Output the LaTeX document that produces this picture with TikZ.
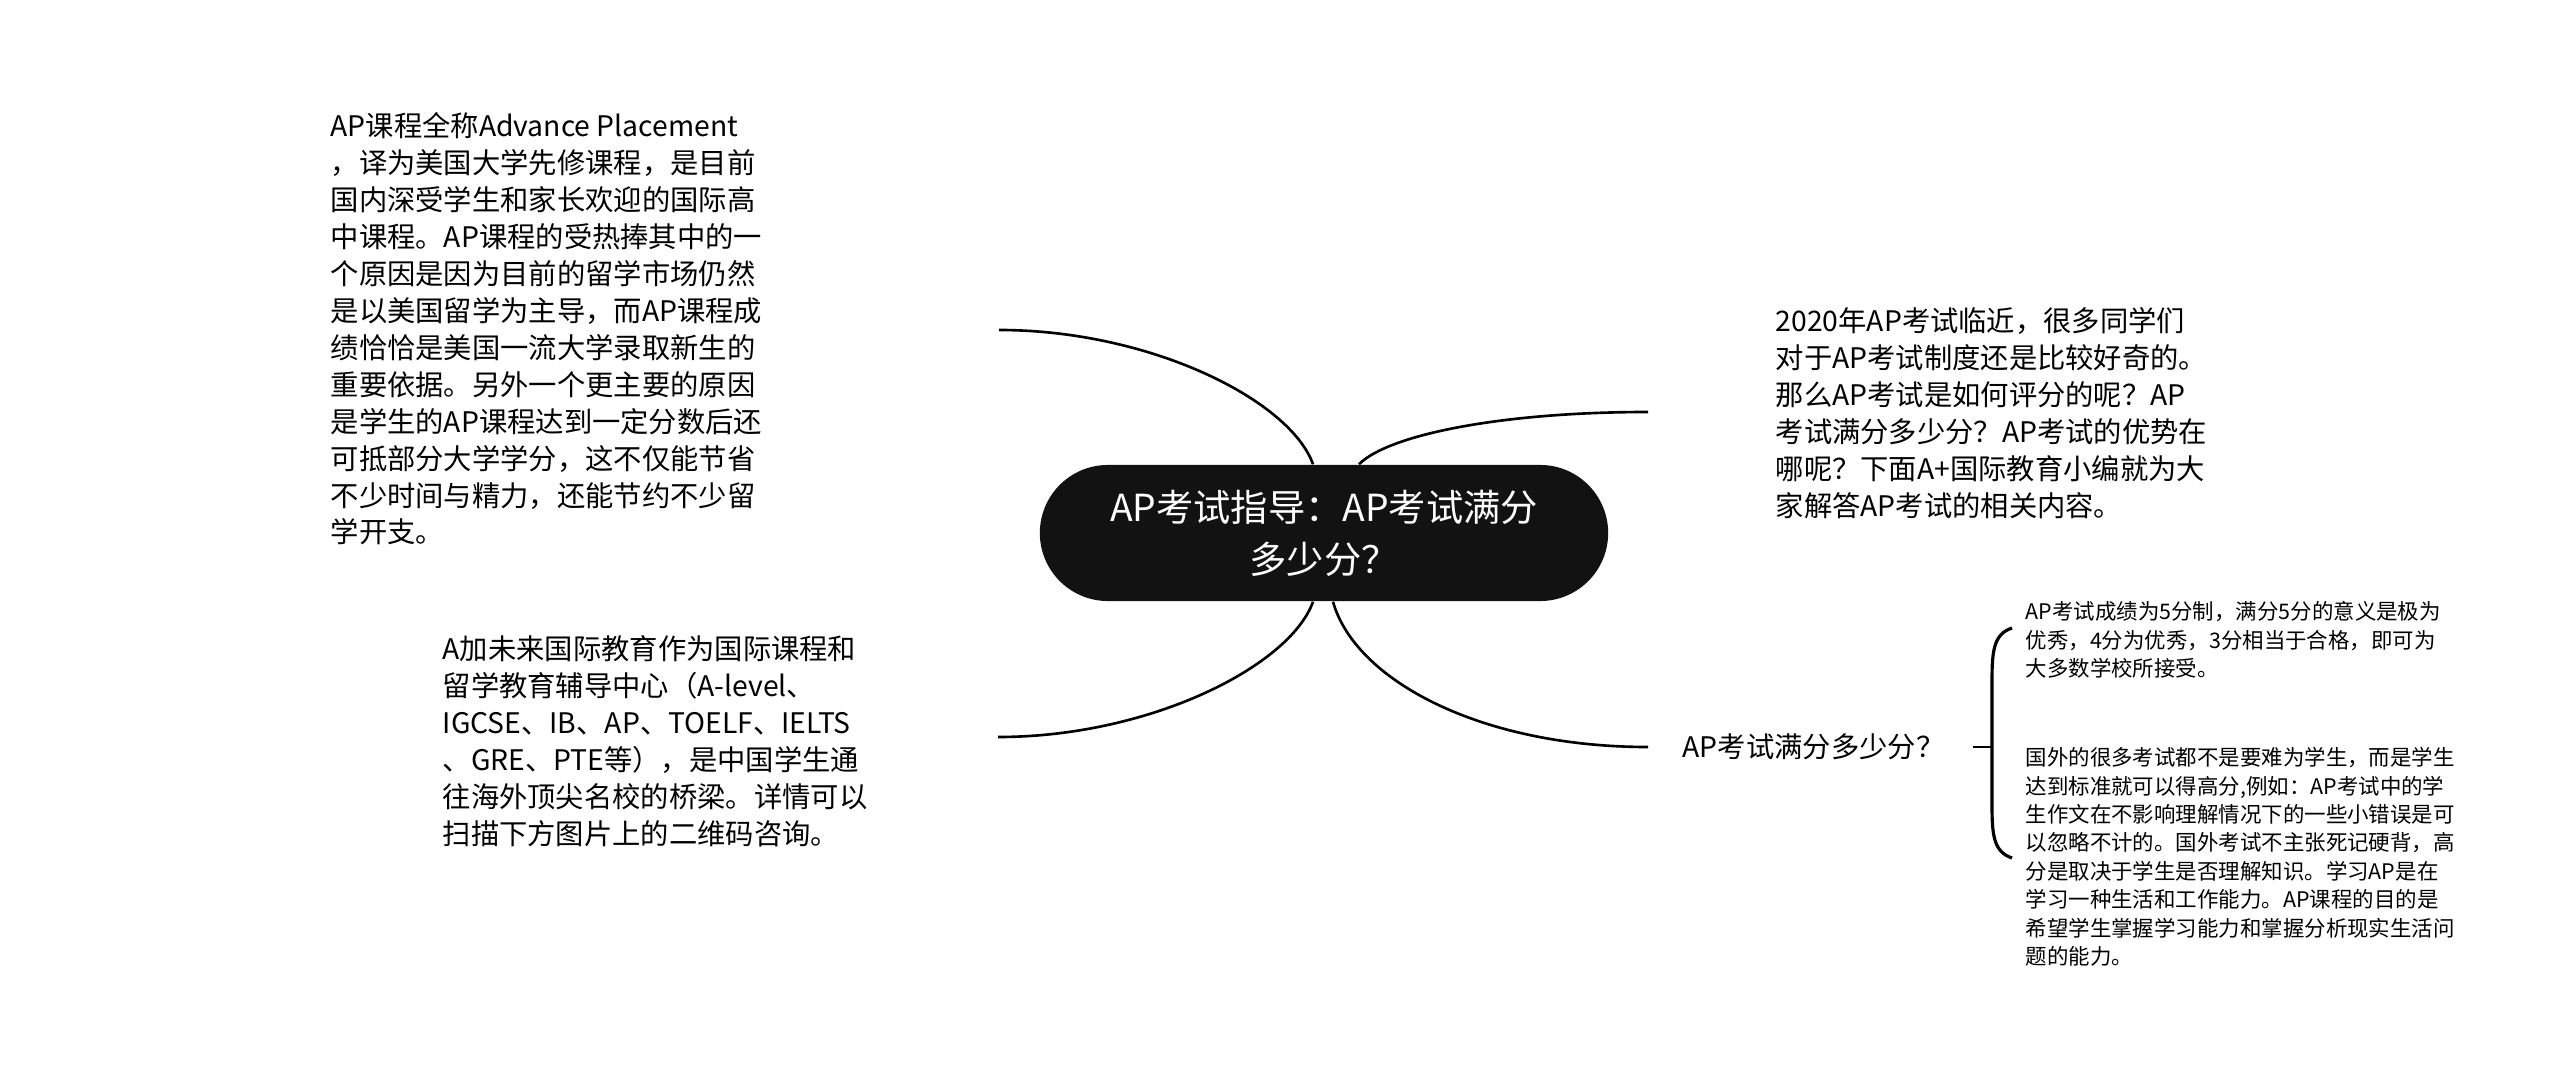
\documentclass[tikz,border=0pt]{standalone}
\usepackage{fontspec}
\newfontfamily\cjk{Noto Sans CJK SC}
\begin{document}
\begin{tikzpicture}[x=0.01cm,y=-0.01cm,
    root/.style={fill=black!93,text=white,rounded corners=0.68cm,
      minimum width=5.68cm,minimum height=1.36cm,align=center,
      font=\cjk\fontsize{10.6pt}{14.8pt}\selectfont},
    topic/.style={anchor=west,inner sep=0pt,align=left,
      font=\cjk\fontsize{8.05pt}{10.5pt}\selectfont},
    detail/.style={anchor=west,inner sep=0pt,align=left,
      font=\cjk\fontsize{6.1pt}{8.1pt}\selectfont},
    link/.style={line width=0.75pt}]
  \useasboundingbox (0,0) rectangle (2560,1073);
  \node[root] (root) at (1324,533) {AP考试指导：AP考试满分\\多少分？};
  \node[topic] (intro) at (330,329) {AP课程全称Advance Placement\\，译为美国大学先修课程，是目前\\国内深受学生和家长欢迎的国际高\\中课程。AP课程的受热捧其中的一\\个原因是因为目前的留学市场仍然\\是以美国留学为主导，而AP课程成\\绩恰恰是美国一流大学录取新生的\\重要依据。另外一个更主要的原因\\是学生的AP课程达到一定分数后还\\可抵部分大学学分，这不仅能节省\\不少时间与精力，还能节约不少留\\学开支。};
  \node[topic] (school) at (442,741) {A加未来国际教育作为国际课程和\\留学教育辅导中心（A-level、\\IGCSE、IB、AP、TOELF、IELTS\\、GRE、PTE等），是中国学生通\\往海外顶尖名校的桥梁。详情可以\\扫描下方图片上的二维码咨询。};
  \node[topic] (news) at (1775,413) {2020年AP考试临近，很多同学们\\对于AP考试制度还是比较好奇的。\\那么AP考试是如何评分的呢？AP\\考试满分多少分？AP考试的优势在\\哪呢？下面A+国际教育小编就为大\\家解答AP考试的相关内容。};
  \node[topic] (score) at (1682,747) {AP考试满分多少分？};
  \node[detail] (scale) at (2025,640) {AP考试成绩为5分制，满分5分的意义是极为\\优秀，4分为优秀，3分相当于合格，即可为\\大多数学校所接受。};
  \node[detail] (ability) at (2025,857) {国外的很多考试都不是要难为学生，而是学生\\达到标准就可以得高分,例如：AP考试中的学\\生作文在不影响理解情况下的一些小错误是可\\以忽略不计的。国外考试不主张死记硬背，高\\分是取决于学生是否理解知识。学习AP是在\\学习一种生活和工作能力。AP课程的目的是\\希望学生掌握学习能力和掌握分析现实生活问\\题的能力。};
  \coordinate (introend) at (999,330);
  \coordinate (schoolend) at (998,737);
  \coordinate (newsend) at (1648,412);
  \coordinate (scoreend) at (1648,747);
  \coordinate (scoreout) at (1973,747);
  \coordinate (brace) at (1992,747);
  \begin{scope}[link]
    \draw ([shift={(-11,0)}]root.north) .. controls (1290,400) and (1150,330) .. (introend);
    \draw ([shift={(35,0)}]root.north) .. controls (1388,435) and (1500,412) .. (newsend);
    \draw ([shift={(-11,0)}]root.south) .. controls (1290,666) and (1150,737) .. (schoolend);
    \draw ([shift={(9,0)}]root.south) .. controls (1355,680) and (1480,747) .. (scoreend);
    \draw (scoreout) -- (brace);
    \draw[line width=0.9pt] (2012,628) .. controls (1994,634) and (1992,650) .. (1992,680)
      -- (1992,806) .. controls (1992,836) and (1994,852) .. (2012,858);
  \end{scope}
\end{tikzpicture}
\end{document}
